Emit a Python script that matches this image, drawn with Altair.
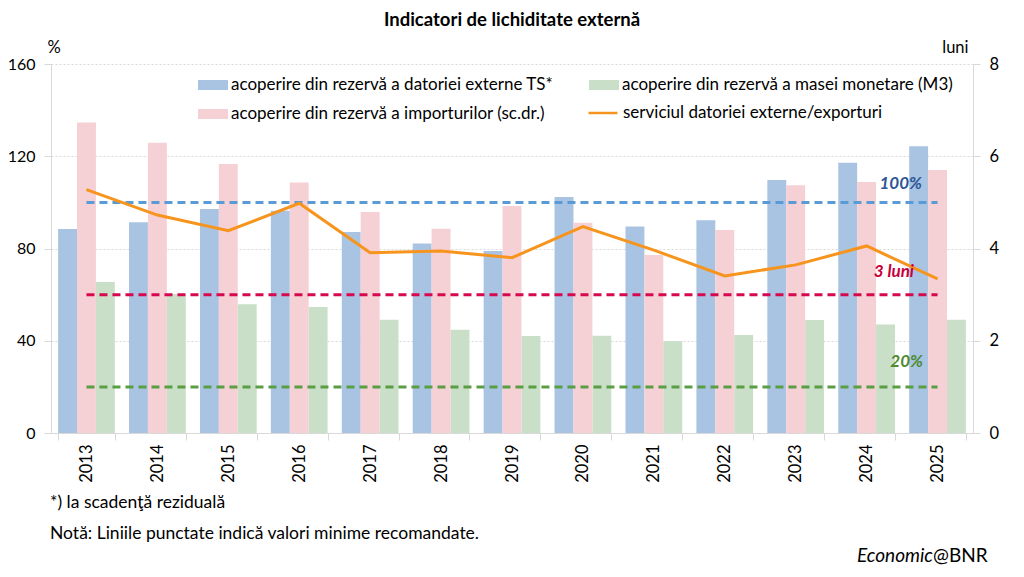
import altair as alt
import pandas as pd

years = [str(y) for y in range(2013, 2026)]
debt_cover = [88.5, 91.4, 97.1, 96.4, 87.2, 82.2, 78.9, 102.3, 89.5, 92.2, 109.7, 117.2, 124.3]
m3_cover = [65.5, 60.3, 55.8, 54.6, 49.1, 44.8, 42.1, 42.2, 39.9, 42.5, 49.0, 47.0, 49.1]
import_months = [6.73, 6.29, 5.83, 5.43, 4.79, 4.43, 4.92, 4.56, 3.86, 4.40, 5.37, 5.44, 5.70]
debt_service = [105.5, 94.5, 87.7, 99.6, 78.2, 78.9, 76.0, 89.5, 79.3, 68.1, 72.9, 81.1, 66.8]

S_DEBT = "acoperire din rezervă a datoriei externe TS*"
S_M3 = "acoperire din rezervă a masei monetare (M3)"
S_IMP = "acoperire din rezervă a importurilor (sc.dr.)"
S_SERV = "serviciul datoriei externe/exporturi"

ref_values = [100, 60, 20]
ref_labels = ["100%", "3 luni", "20%"]
ref_colors = ["#5b9bd5", "#d6084e", "#5a9e44"]

FONT = "Lato"
BLUE, PINK, GREEN, ORANGE = "#a9c4e3", "#f5d0d5", "#cadfc8", "#f7941d"
AX = 16

bars_df = pd.DataFrame({
    "year": years * 2,
    "series": [S_DEBT] * 13 + [S_M3] * 13,
    "value": debt_cover + m3_cover,
})
pink_df = pd.DataFrame({"year": years, "series": [S_IMP] * 13, "value": import_months})
line_df = pd.DataFrame({"year": years, "value": debt_service, "series": [S_SERV] * 13})
ref_df = pd.DataFrame({"v": ref_values, "lab": ref_labels,
                       "x1": [years[0]] * 3, "x2": [years[-1]] * 3})

offset_scale = alt.Scale(domain=[S_DEBT, S_IMP, S_M3], paddingInner=0, paddingOuter=0)
x_enc = alt.X("year:N", sort=years, title=None,
              scale=alt.Scale(paddingInner=0.2, paddingOuter=0.1),
              axis=alt.Axis(labelAngle=-90, labelFont=FONT, labelFontSize=16.5, labelColor="#000",
                            tickBand="extent", tickColor="#d9d9d9", tickSize=7,
                            domainColor="#d9d9d9", labelPadding=4, grid=False))
left_scale = alt.Scale(domain=[0, 160], nice=False)

color_scale = alt.Scale(domain=[S_DEBT, S_M3, S_IMP], range=[BLUE, GREEN, PINK])
legend = alt.Legend(
    title=None, orient="none", legendX=148, legendY=7, columns=2, direction="horizontal",
    labelFont=FONT, labelFontSize=17, labelColor="#000", labelLimit=500, labelOffset=4,
    symbolSize=784, symbolType="M-1.07,-0.357H1.07V0.357H-1.07Z", symbolStrokeWidth=0,
    symbolOpacity=1, columnPadding=35, rowPadding=7, padding=0,
)
line_legend = alt.Legend(
    title=None, orient="none", legendX=536, legendY=33,
    labelFont=FONT, labelFontSize=17, labelColor="#000", labelLimit=500, labelOffset=4,
    symbolSize=841, symbolType="stroke", symbolStrokeWidth=2.5, padding=0,
)

bars = alt.Chart(bars_df).mark_bar().encode(
    x=x_enc,
    xOffset=alt.XOffset("series:N", scale=offset_scale),
    y=alt.Y("value:Q", scale=left_scale,
            axis=alt.Axis(values=[0, 40, 80, 120, 160], grid=True, gridDash=[2, 2], gridColor="#d9d9d9",
                          domainColor="#d9d9d9", tickColor="#d9d9d9", tickSize=7, labelPadding=9,
                          labelFont=FONT, labelFontSize=AX, labelColor="#000",
                          title="%", titleAngle=0, titleX=-4, titleY=-9, titleAlign="left",
                          titleBaseline="bottom", titleFont=FONT, titleFontSize=16.5,
                          titleFontWeight="normal", titleColor="#000")),
    color=alt.Color("series:N", scale=color_scale, legend=legend),
)

pink = alt.Chart(pink_df).mark_bar(color=PINK).encode(
    x=alt.X("year:N", sort=years),
    xOffset=alt.XOffset("series:N", scale=offset_scale),
    y=alt.Y("value:Q", scale=alt.Scale(domain=[0, 8], nice=False),
            axis=alt.Axis(orient="right", values=[0, 2, 4, 6, 8], grid=False,
                          domainColor="#d9d9d9", tickColor="#d9d9d9", tickSize=7, labelPadding=9,
                          labelFont=FONT, labelFontSize=16.5, labelColor="#000",
                          title="luni", titleAngle=0, titleX=-5, titleY=-9, titleAlign="right",
                          titleBaseline="bottom", titleFont=FONT, titleFontSize=16.5,
                          titleFontWeight="normal", titleColor="#000")),
)

rules = [
    alt.Chart(ref_df).transform_filter(alt.datum.lab == lab)
    .mark_rule(strokeWidth=3, strokeDash=[8, 5], color=col).encode(
        x=alt.X("x1:N", sort=years),
        x2="x2:N",
        y=alt.Y("v:Q", scale=left_scale, axis=None),
    )
    for lab, col in zip(ref_labels, ref_colors)
]

line = alt.Chart(line_df).mark_line(strokeWidth=3).encode(
    x=alt.X("year:N", sort=years),
    y=alt.Y("value:Q", scale=left_scale, axis=None),
    stroke=alt.Stroke("series:N", scale=alt.Scale(domain=[S_SERV], range=[ORANGE]), legend=line_legend),
)

def txt(s, x, y, size=17.5, weight="normal", style="normal", align="left", color="#000"):
    return alt.Chart(pd.DataFrame({"t": [s]})).mark_text(
        font=FONT, fontSize=size, fontWeight=weight, fontStyle=style, align=align,
        baseline="middle", color=color).encode(text="t:N", x=alt.value(x), y=alt.value(y))

ann = [
    txt("100%", 871, 120, 17, "bold", "italic", "right", "#2e5597"),
    txt("3 luni", 863, 208, 17, "bold", "italic", "right", "#c8003c"),
    txt("20%", 872, 298, 17, "bold", "italic", "right", "#4e8a2f"),
    txt("Indicatori de lichiditate externă", 461, -44, 18.5, "bold", align="center"),
    txt("*) la scadenţă reziduală", -1, 439),
    txt("Notă: Liniile punctate indică valori minime recomandate.", -1, 470),
    txt("Economic", 882, 492, 19, style="italic", align="right"),
    txt("@BNR", 882, 492, 19, align="left"),
]

top = alt.layer(*rules, line, *ann)

chart = alt.layer(bars, pink, top).resolve_scale(y="independent").properties(
    width=922, height=369,
    autosize=alt.AutoSizeParams(type="none"),
    padding={"left": 43, "top": 56, "right": 43, "bottom": 135},
).configure_view(stroke=None)

chart.save("out.html", embed_options={"renderer": "svg", "actions": False})
